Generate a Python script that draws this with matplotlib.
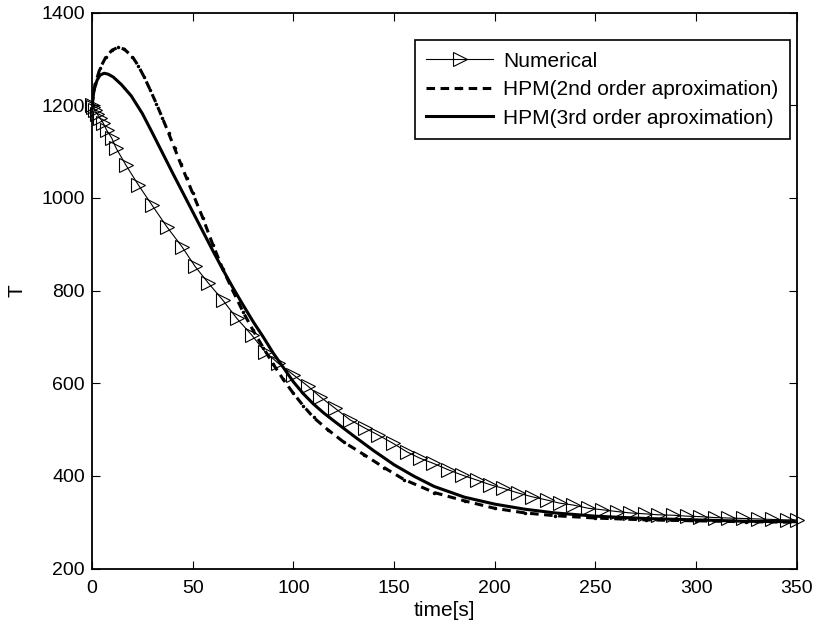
#!/usr/bin/env python3
"""
Temperature decay: numerical solution vs. HPM approximations.
"""

import matplotlib
matplotlib.use('Agg')
import matplotlib.pyplot as plt

plt.rcParams['font.family'] = ['Liberation Sans', 'DejaVu Sans']

# Numerical solution (solver steps)
t_num = [0, 0.6, 1.5, 2.6, 4.0, 5.6, 7.3, 9.8, 12.0, 16.8, 23.0, 29.7, 37.1,
         44.6, 51.2, 57.8, 65.0, 71.9, 79.3, 85.9, 92.5, 100.0, 107.4, 113.2,
         120.7, 128.1, 135.6, 142.2, 149.6, 156.3, 162.9, 169.5, 177.0, 183.6,
         191.1, 197.7, 204.3, 211.7, 218.4, 225.8, 232.4, 239.0, 246.5, 253.2,
         260.6, 267.2, 274.7, 281.3, 288.7, 295.4, 302.0, 309.4, 316.0, 323.5,
         330.9, 337.6, 345.0, 350.0]
T_num = [1200, 1197, 1190, 1181, 1172, 1161, 1146, 1129, 1107, 1071, 1028, 985,
         938, 895, 852, 816, 779, 740, 704, 668, 643, 618, 593, 571, 546, 521,
         503, 488, 470, 452, 438, 427, 413, 402, 391, 381, 373, 363, 355, 348,
         341, 337, 330, 327, 323, 320, 318, 316, 315, 313, 312, 310, 309, 308,
         307, 306, 305, 305]

# HPM 2nd order approximation
t_hpm2 = [0, 1.5, 4, 7, 10, 13, 16, 20, 23, 26, 29, 32, 35, 38, 41, 44, 47,
          50, 55, 60, 65, 70, 75, 80, 85, 90, 95, 100, 105, 110, 117, 125,
          135, 145, 155, 170, 185, 200, 215, 230, 250, 275, 300, 325, 350]
T_hpm2 = [1200, 1245, 1280, 1305, 1319, 1325, 1321, 1305, 1285, 1260, 1232,
          1203, 1172, 1140, 1107, 1074, 1042, 1010, 957, 899, 846, 799, 754,
          714, 677, 641, 608, 578, 551, 526, 500, 473, 446, 418, 392, 364, 346,
          330, 320, 314, 309, 305, 303, 301, 300]

# HPM 3rd order approximation
t_hpm3 = [0, 1, 2.5, 4, 6, 8, 10.5, 14.5, 19.5, 25, 30, 35, 40, 45, 50, 55,
          60, 65, 70, 75, 80, 85, 90, 95, 100, 105, 110, 115, 120, 130, 140,
          150, 160, 170, 185, 200, 215, 230, 250, 275, 300, 325, 350]
T_hpm3 = [1200, 1233, 1254, 1265, 1269, 1267, 1261, 1245, 1220, 1182, 1140,
          1097, 1054, 1012, 970, 928, 886, 845, 806, 769, 733, 700, 665, 634,
          603, 577, 555, 536, 519, 486, 454, 424, 399, 377, 354, 339, 328, 320,
          313, 308, 305, 302, 301]


fig = plt.figure(figsize=(8.18, 6.28), dpi=100)
ax = fig.add_axes([0.1125, 0.0947, 0.8615, 0.8853])

ax.plot(t_num, T_num, color='k', lw=0.8, marker='>', ms=10.5,
        mfc='none', mec='k', mew=0.8, clip_on=False, label='Numerical')
ax.plot(t_hpm2, T_hpm2, color='k', lw=2.2, ls=(0, (2.8, 1.8)),
        marker='.', ms=3, label='HPM(2nd order aproximation)')
ax.plot(t_hpm3, T_hpm3, color='k', lw=2.2, ls='-',
        label='HPM(3rd order aproximation)')

ax.set_xlim(0, 350)
ax.set_ylim(200, 1400)
ax.set_xticks(range(0, 351, 50))
ax.set_yticks(range(200, 1401, 200))
ax.tick_params(direction='in', length=6, width=0.8, labelsize=14,
               top=True, right=True)
ax.tick_params(axis='x', pad=8)
ax.tick_params(axis='y', pad=5)
for sp in ax.spines.values():
    sp.set_linewidth(1.3)

ax.set_xlabel('time[s]', fontsize=15, labelpad=3)
ax.set_ylabel('T', fontsize=15, labelpad=11)

leg = ax.legend(loc='upper right', bbox_to_anchor=(0.9905, 0.9505),
                borderaxespad=0, fontsize=15, handlelength=3.2,
                handletextpad=0.5, labelspacing=0.46, borderpad=0.55,
                fancybox=False, framealpha=1, edgecolor='k')
leg.get_frame().set_linewidth(1.2)

plt.savefig('out.png', dpi=100)
